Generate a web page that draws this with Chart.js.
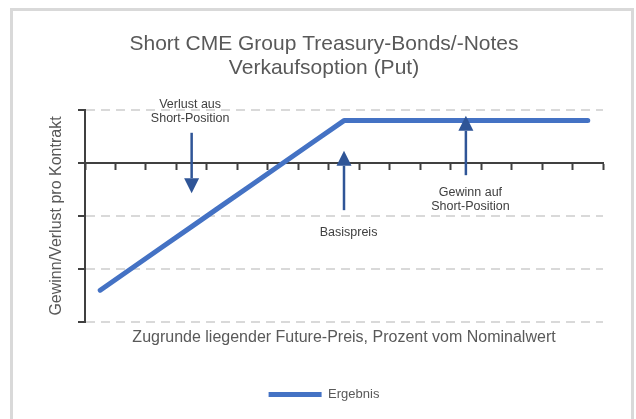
<!DOCTYPE html>
<html>
<head>
<meta charset="utf-8">
<script src="https://cdn.jsdelivr.net/npm/chart.js@4.4.0/dist/chart.umd.min.js"></script>
<style>
    html, body { margin: 0; padding: 0; background: #ffffff; }
    canvas { display: block; }
</style>
</head>
<body>
<canvas id="payoffChart" width="636" height="419"></canvas>
<script>
// Future price steps along the x axis (the axis shows no labels)
var categories = ['1', '2', '3', '4', '5', '6', '7', '8', '9', '10', '11', '12', '13', '14', '15', '16', '17'];
// Profit/loss of the short put per contract
var resultValues = [-2.4, -2.0, -1.6, -1.2, -0.8, -0.4, 0, 0.4, 0.8, 0.8, 0.8, 0.8, 0.8, 0.8, 0.8, 0.8, 0.8];
var yTicks = [-3, -2, -1, 0, 1];

// Arrows and notes, in data units (category index / value)
var arrowX = [3, 8, 12];
var arrowFrom = [0.57, -0.89, -0.23];
var arrowTo = [-0.57, 0.23, 0.89];
var noteX = [2.95, 8.15, 12.15];
var noteLines = [['Verlust aus', 'Short-Position'], ['Basispreis'], ['Gewinn auf', 'Short-Position']];
var noteY = [[1.11, 0.83], [-1.32], [-0.55, -0.83]];

var fontFamily = '"Liberation Sans", Arial, sans-serif';

// White background plus the light grey frame
var framePlugin = {
    id: 'frame',
    beforeDraw: function(chart) {
        var ctx = chart.ctx;
        ctx.save();
        ctx.fillStyle = '#ffffff';
        ctx.fillRect(0, 0, chart.width, chart.height);
        ctx.strokeStyle = '#d9d9d9';
        ctx.lineWidth = 3;
        ctx.strokeRect(11.5, 9.5, 621, 440);
        ctx.restore();
    }
};

// Arrows with their notes
var arrowPlugin = {
    id: 'arrows',
    afterDatasetsDraw: function(chart) {
        var ctx = chart.ctx;
        var xs = chart.scales.x;
        var ys = chart.scales.y;
        var head = 15;
        ctx.save();
        for (var i = 0; i < arrowX.length; i++) {
            var x = xs.getPixelForValue(arrowX[i]);
            var y0 = ys.getPixelForValue(arrowFrom[i]);
            var y1 = ys.getPixelForValue(arrowTo[i]);
            var dir = y1 > y0 ? 1 : -1;
            ctx.strokeStyle = '#2f5597';
            ctx.fillStyle = '#2f5597';
            ctx.lineWidth = 2.5;
            ctx.beginPath();
            ctx.moveTo(x, y0);
            ctx.lineTo(x, y1 - dir * head);
            ctx.stroke();
            ctx.beginPath();
            ctx.moveTo(x, y1);
            ctx.lineTo(x - 7.5, y1 - dir * head);
            ctx.lineTo(x + 7.5, y1 - dir * head);
            ctx.closePath();
            ctx.fill();

            ctx.fillStyle = '#404040';
            ctx.font = '12.5px ' + fontFamily;
            ctx.textAlign = 'center';
            ctx.textBaseline = 'middle';
            var tx = xs.getPixelForValue(noteX[i]);
            for (var j = 0; j < noteLines[i].length; j++) {
                ctx.fillText(noteLines[i][j], tx, ys.getPixelForValue(noteY[i][j]));
            }
        }
        ctx.restore();
    }
};

document.addEventListener('DOMContentLoaded', function() {
    var ctx = document.getElementById('payoffChart').getContext('2d');
    var payoffChart = new Chart(ctx, {
        type: 'line',
        data: {
            labels: categories,
            datasets: [{
                label: 'Ergebnis',
                data: resultValues,
                borderColor: '#4472c4',
                backgroundColor: '#4472c4',
                borderWidth: 5,
                borderCapStyle: 'round',
                borderJoinStyle: 'round',
                pointRadius: 0,
                pointHoverRadius: 0,
                tension: 0,
                fill: false,
                xAxisID: 'x',
                yAxisID: 'y'
            }]
        },
        options: {
            responsive: false,
            animation: false,
            devicePixelRatio: 1,
            layout: {
                padding: { left: 45, right: 33, top: 20, bottom: 8 }
            },
            plugins: {
                title: {
                    display: true,
                    text: ['Short CME Group Treasury-Bonds/-Notes', 'Verkaufsoption (Put)'],
                    color: '#595959',
                    font: { size: 21, weight: 'normal', family: fontFamily, lineHeight: 1.15 },
                    padding: { top: 12, bottom: 29.7 }
                },
                legend: {
                    position: 'bottom',
                    labels: {
                        usePointStyle: true,
                        pointStyle: 'line',
                        pointStyleWidth: 53,
                        color: '#595959',
                        font: { size: 13, family: fontFamily },
                        padding: 10
                    }
                },
                tooltip: { enabled: false }
            },
            scales: {
                x: {
                    axis: 'x',
                    type: 'category',
                    position: { y: 0 },
                    offset: true,
                    ticks: { display: false },
                    grid: {
                        offset: true,
                        drawOnChartArea: false,
                        drawTicks: true,
                        tickLength: 6,
                        tickWidth: 2,
                        tickColor: '#404040'
                    },
                    border: { color: '#404040', width: 2 }
                },
                xTitle: {
                    axis: 'x',
                    type: 'category',
                    position: 'bottom',
                    offset: true,
                    ticks: { display: false },
                    grid: { display: false, drawTicks: false },
                    border: { display: false },
                    title: {
                        display: true,
                        text: 'Zugrunde liegender Future-Preis, Prozent vom Nominalwert',
                        color: '#595959',
                        font: { size: 16, family: fontFamily, lineHeight: 1.2 },
                        padding: { top: 6, bottom: 30.8 }
                    }
                },
                y: {
                    min: -3,
                    max: 1,
                    afterBuildTicks: function(scale) {
                        scale.ticks = yTicks.map(function(v) { return { value: v }; });
                    },
                    ticks: { display: false },
                    grid: {
                        color: '#d9d9d9',
                        lineWidth: 2,
                        tickColor: '#404040',
                        tickLength: 7,
                        tickWidth: 2,
                        tickBorderDash: []
                    },
                    border: { color: '#404040', width: 2, dash: [9, 6] },
                    title: {
                        display: true,
                        text: 'Gewinn/Verlust pro Kontrakt',
                        color: '#595959',
                        font: { size: 16, family: fontFamily, lineHeight: 1.2 },
                        padding: { top: 1.5, bottom: 12.3 }
                    }
                }
            }
        },
        plugins: [framePlugin, arrowPlugin]
    });
});
</script>
</body>
</html>
